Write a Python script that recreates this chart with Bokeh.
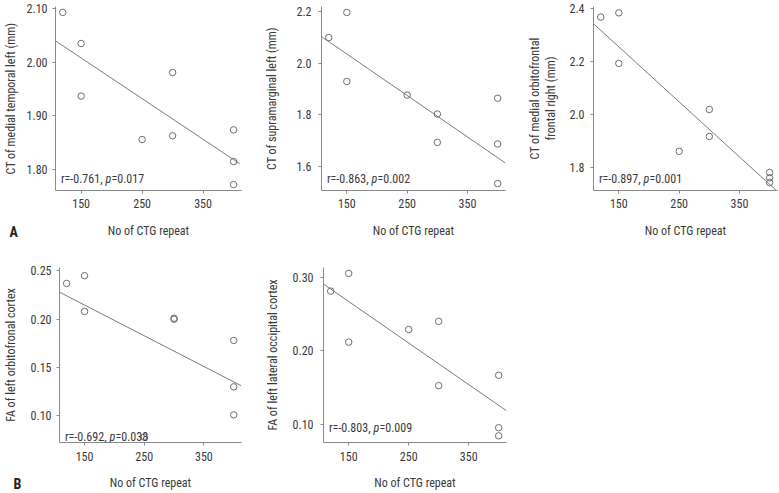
from bokeh.plotting import figure
from bokeh.layouts import column, row
from bokeh.models import Label, Range1d, FixedTicker, PrintfTickFormatter, Title
from bokeh.embed import file_html
from bokeh.resources import INLINE

# ---------------- data ----------------
ctg_repeat = [120, 150, 150, 250, 300, 300, 400, 400, 400]
x_ticks = [150, 250, 350]

ct_medial_temporal_left = [2.093, 2.035, 1.937, 1.856, 1.981, 1.863, 1.874, 1.815, 1.772]
ct_supramarginal_left = [2.099, 2.196, 1.929, 1.876, 1.803, 1.693, 1.864, 1.687, 1.534]
ct_medial_orbitofrontal_right = [2.369, 2.385, 2.194, 1.862, 2.020, 1.918, 1.782, 1.762, 1.744]
fa_left_orbitofrontal = [0.237, 0.245, 0.208, 0.078, 0.200, 0.201, 0.178, 0.130, 0.101]
fa_left_lateral_occipital = [0.281, 0.305, 0.212, 0.229, 0.240, 0.153, 0.167, 0.096, 0.085]

# fitted regression lines (end values)
fit_a1_x, fit_a1_y = [108, 410], [2.040, 1.811]
fit_a2_x, fit_a2_y = [109, 413], [2.101, 1.613]
fit_a3_x, fit_a3_y = [107, 411], [2.346, 1.714]
fit_b1_x, fit_b1_y = [108, 413], [0.228, 0.131]
fit_b2_x, fit_b2_y = [109, 413], [0.290, 0.119]

yticks_a1 = [1.80, 1.90, 2.00, 2.10]
yticks_a2 = [1.6, 1.8, 2.0, 2.2]
yticks_a3 = [1.8, 2.0, 2.2, 2.4]
yticks_b1 = [0.10, 0.15, 0.20, 0.25]
yticks_b2 = [0.10, 0.20, 0.30]

r_values = ["-0.761", "-0.863", "-0.897", "-0.692", "-0.803"]
p_values = ["0.017", "0.002", "0.001", "0.038", "0.009"]

x_label = "No of CTG repeat"
y_labels = [
    "CT of medial temporal left (mm)",
    "CT of supramarginal left (mm)",
    "CT of medial orbitofrontal\nfrontal right (mm)",
    "FA of left orbitofronal cortex",
    "FA of left lateral occipital cortex",
]
panel_letters = ["A", "B"]

# ---------------- styling ----------------
FONT = "Roboto Condensed, DejaVu Sans Condensed, Liberation Sans, sans-serif"
TXT = "#3a3a3a"
AX = "#8a8a8a"
MK = "#6e6e6e"
LN = "#7a7a7a"
X_RANGE = (108, 413)


def panel(yvals, fx, fy, yr, yticks, yfmt, ylabel, r, pv, ann_y,
          w, h, left, right, top, bottom, xs1, xs2, ys1, ys2):
    p = figure(width=w, height=h, x_range=Range1d(*X_RANGE), y_range=Range1d(*yr),
               output_backend="svg", toolbar_location=None,
               min_border_left=left, min_border_right=right,
               min_border_top=top, min_border_bottom=bottom)
    p.outline_line_color = None
    p.xgrid.visible = False
    p.ygrid.visible = False
    p.background_fill_color = "white"
    p.border_fill_color = "white"

    for ax in (p.xaxis[0], p.yaxis[0]):
        ax.axis_line_color = AX
        ax.axis_line_width = 1
        ax.major_tick_line_color = AX
        ax.minor_tick_line_color = None
        ax.major_tick_in = 0
        ax.major_tick_out = 3
        ax.major_label_text_font = FONT
        ax.major_label_text_font_size = "12px"
        ax.major_label_text_color = TXT
        ax.axis_label_text_font = FONT
        ax.axis_label_text_font_size = "12px"
        ax.axis_label_text_font_style = "normal"
        ax.axis_label_text_color = TXT

    p.xaxis[0].ticker = FixedTicker(ticks=x_ticks)
    p.xaxis[0].axis_label = x_label
    p.xaxis[0].major_label_standoff = xs1
    p.xaxis[0].axis_label_standoff = xs2

    p.yaxis[0].ticker = FixedTicker(ticks=yticks)
    p.yaxis[0].formatter = PrintfTickFormatter(format=yfmt)
    p.yaxis[0].axis_label = ylabel
    p.yaxis[0].major_label_standoff = ys1
    p.yaxis[0].axis_label_standoff = ys2

    p.line(fx, fy, line_color=LN, line_width=1)
    p.scatter(ctg_repeat, yvals, marker="circle", size=6.5, fill_color=None,
              line_color=MK, line_width=1)

    # annotation "r=..., p=..." with italic p
    X = 50
    common = dict(x_units="screen", y_units="screen", text_font=FONT,
                  text_font_size="12px", text_color=TXT, text_baseline="middle")
    p.add_layout(Label(x=X - 3, y=ann_y, text="r=" + r + ",", text_align="right", **common))
    p.add_layout(Label(x=X, y=ann_y, text="p", text_align="left",
                       text_font_style="italic", **common))
    p.add_layout(Label(x=X + 6, y=ann_y, text="=" + pv, text_align="left", **common))
    return p


HA, HB = 262, 230
f1 = panel(ct_medial_temporal_left, fit_a1_x, fit_a1_y, (1.761, 2.104), yticks_a1, "%.2f",
           y_labels[0], r_values[0], p_values[0], 12, 262, HA, 53, 21, 6, 72, 5, 13, 5, 6)
f2 = panel(ct_supramarginal_left, fit_a2_x, fit_a2_y, (1.507, 2.219), yticks_a2, "%.1f",
           y_labels[1], r_values[1], p_values[1], 12, 262, HA, 56, 19, 6, 72, 5, 13, 7, 14)
f3 = panel(ct_medial_orbitofrontal_right, fit_a3_x, fit_a3_y, (1.714, 2.409), yticks_a3, "%.1f",
           y_labels[2], r_values[2], p_values[2], 12, 255, HA, 65, 2, 6, 72, 5, 13, 6, 8)
f4 = panel(fa_left_orbitofrontal, fit_b1_x, fit_b1_y, (0.0724, 0.2535), yticks_b1, "%.2f",
           y_labels[3], r_values[3], p_values[3], 6, 262, HB, 53, 21, 5, 49, 6, 12, 5, 10)
f5 = panel(fa_left_lateral_occipital, fit_b2_x, fit_b2_y, (0.076, 0.313), yticks_b2, "%.2f",
           y_labels[4], r_values[4], p_values[4], 15, 263, HB, 56, 19, 5, 49, 6, 12, 7, 10)

for fig, letter in ((f1, panel_letters[0]), (f4, panel_letters[1])):
    fig.add_layout(Title(text=letter, align="left", vertical_align="top",
                         offset=-46, standoff=-33,
                         text_font=FONT, text_font_size="14px", text_font_style="bold",
                         text_color="#222222"), "below")

layout = column(row(f1, f2, f3), row(f4, f5))
open("out.html", "w").write(file_html(layout, INLINE))
